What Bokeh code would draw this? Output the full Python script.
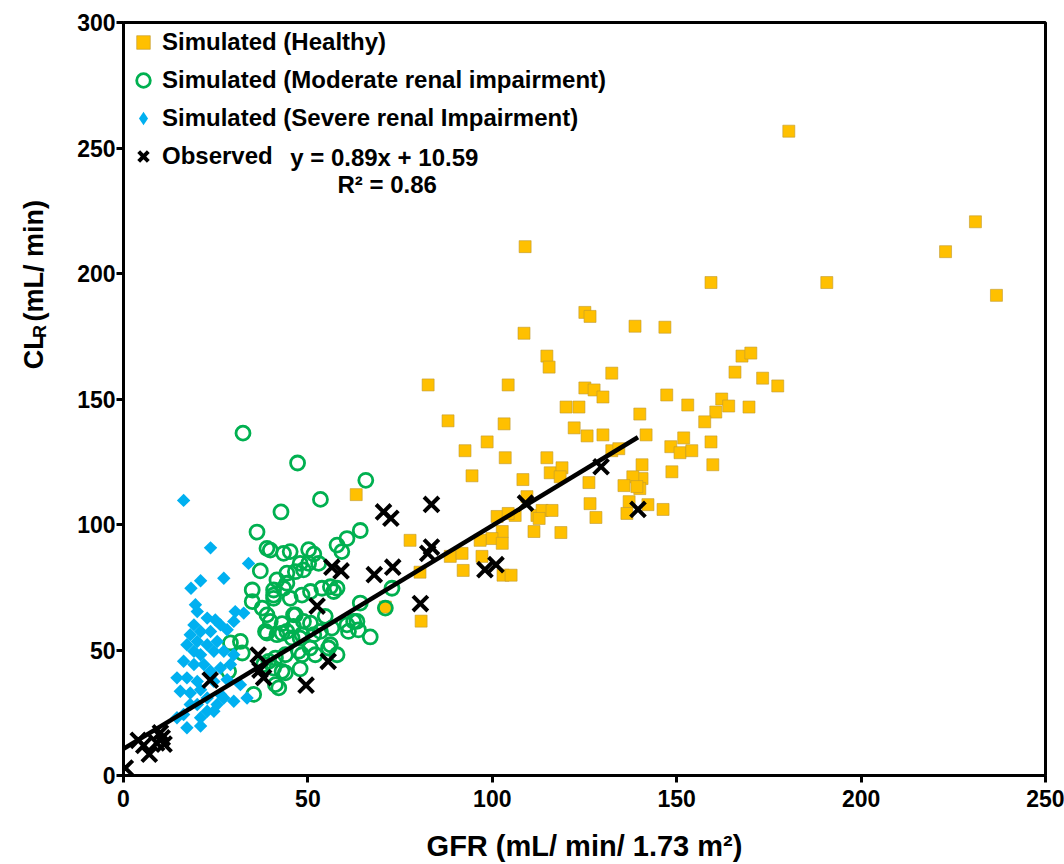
import math
from bokeh.plotting import figure
from bokeh.layouts import row
from bokeh.models import Range1d, Legend, LegendItem, Label, FixedTicker
from bokeh.embed import file_html
from bokeh.resources import INLINE

# ---------------- data ----------------
healthy_x = [180.4, 231.0, 222.9, 159.3, 190.7, 236.7, 108.9, 125.1, 126.5, 138.7, 146.8, 108.6,
             114.8, 115.4, 132.4, 165.8, 167.7, 170.1, 173.3, 177.4, 104.3, 82.6, 125.1, 127.6,
             130.0, 147.3, 162.2, 164.1, 169.6, 153.0, 120.0, 123.5, 160.6, 140.0, 157.6, 103.2,
             88.0, 122.2, 125.7, 130.0, 141.7, 98.6, 151.9, 159.3, 148.4, 150.9, 154.1, 159.8,
             148.7, 140.6, 140.6, 140.0, 92.6, 103.5, 114.8, 132.4, 134.3, 94.5, 108.3, 115.7,
             118.9, 118.4, 126.2, 138.1, 135.7, 139.2, 109.4, 126.5, 137.1, 142.2, 146.3, 136.5,
             128.1, 101.3, 106.2, 104.3, 112.1, 113.5, 116.2, 112.7, 111.3, 118.6, 102.7, 77.7,
             99.9, 96.7, 102.7, 88.6, 91.8, 97.2, 80.4, 92.1, 102.9, 105.1, 80.7, 71.0, 63.1]
healthy_y = [256.7, 220.6, 208.7, 196.4, 196.4, 191.3, 210.7, 184.5, 182.9, 179.0, 178.6, 176.2,
             167.1, 162.7, 160.3, 160.7, 167.1, 168.3, 158.3, 155.2, 155.6, 155.6, 154.4, 153.6,
             150.8, 151.6, 150.0, 147.2, 146.8, 147.6, 146.8, 146.8, 144.8, 144.0, 140.9, 140.1,
             141.3, 138.5, 135.3, 135.7, 135.7, 132.9, 134.5, 132.9, 131.0, 128.6, 129.4, 123.8,
             121.0, 123.8, 118.3, 114.3, 129.4, 126.6, 126.6, 129.4, 130.2, 119.4, 117.9, 120.6,
             122.6, 119.0, 116.7, 119.0, 115.5, 115.1, 111.1, 108.3, 109.1, 107.9, 106.0, 104.4,
             102.8, 103.2, 103.6, 104.4, 103.6, 105.6, 105.6, 102.4, 97.2, 96.8, 97.2, 93.7,
             94.4, 93.7, 92.5, 87.3, 88.5, 87.3, 81.0, 81.7, 79.8, 79.8, 61.5, 67.1, 111.9]

moderate_x = [32.4, 47.2, 53.4, 42.7, 36.2, 65.7, 64.2, 60.6, 57.9, 59.2,
              38.9, 39.8, 43.4, 45.2, 50.2, 51.6, 37.1, 41.6, 44.3, 47.9, 48.8, 50.2, 46.6, 44.3,
              52.9, 34.9, 40.7, 43.4, 34.9, 37.6, 40.7, 40.7, 45.2, 48.4, 50.7, 53.8, 57.0, 56.1,
              57.9, 64.2, 72.8, 71.0, 46.6, 38.9, 46.1, 39.8, 48.8, 43.0, 46.1, 50.7, 54.7, 56.5,
              62.4, 60.6, 63.3, 61.0, 63.7, 66.9, 38.9, 41.6, 44.3, 43.0, 47.9, 51.6, 53.4, 45.7,
              48.4, 56.1, 50.6, 47.5, 43.9, 41.2, 48.4, 52.0, 55.6, 57.9, 29.0, 31.7, 32.2, 28.5,
              43.0, 43.9, 41.2, 47.9, 40.7, 38.0, 39.4, 35.3, 42.1, 38.5]
moderate_y = [136.4, 124.5, 110.0, 105.0, 97.0, 117.6, 97.6, 94.4, 91.8, 89.2,
              90.5, 89.8, 88.5, 89.2, 90.0, 88.2, 81.5, 77.9, 80.6, 84.5, 81.9, 84.5, 81.2, 76.6,
              84.5, 73.9, 73.9, 74.6, 69.3, 66.7, 70.6, 71.9, 70.6, 71.9, 73.3, 74.6, 73.3, 75.2,
              74.6, 68.7, 74.6, 66.7, 64.0, 64.0, 64.0, 61.4, 61.4, 60.5, 59.4, 60.7, 63.4, 58.7,
              61.4, 60.0, 61.4, 57.4, 58.0, 55.2, 56.7, 56.1, 57.4, 56.7, 54.7, 56.1, 57.4, 54.8,
              56.1, 52.1, 50.8, 49.5, 48.1, 46.8, 48.1, 48.1, 50.8, 48.1, 52.8, 53.4, 48.8, 41.5,
              41.5, 40.9, 36.2, 42.5, 42.8, 44.2, 45.5, 32.3, 34.9, 57.4]

severe_x = [16.3, 23.6, 33.9, 27.2, 20.9, 18.3, 19.5, 20.0, 30.3, 32.6, 19.1, 22.7, 24.9, 26.3,
            20.9, 23.6, 18.1, 28.1, 29.9, 20.0, 22.7, 25.4, 17.2, 19.1, 20.9, 24.5, 27.2, 29.9,
            16.3, 19.1, 21.8, 23.6, 26.3, 29.0, 14.5, 17.2, 20.0, 24.5, 28.1, 31.7, 15.4, 18.1,
            20.9, 22.7, 26.3, 33.5, 29.9, 25.4, 20.0, 18.1, 22.7, 20.9, 16.3, 14.5, 24.5, 27.2,
            17.2, 20.9]
severe_y = [109.6, 90.7, 84.5, 78.6, 77.6, 74.6, 68.0, 65.3, 65.3, 64.7, 60.0, 62.7, 62.0, 60.0,
            57.4, 57.4, 56.1, 58.1, 61.4, 53.4, 52.1, 53.4, 52.1, 49.5, 48.1, 49.5, 49.5, 48.1,
            45.5, 44.2, 44.2, 41.5, 42.8, 44.2, 38.9, 38.9, 37.5, 37.5, 38.2, 36.2, 33.6, 32.9,
            34.2, 30.9, 32.3, 30.9, 29.6, 28.3, 28.3, 28.3, 25.6, 23.0, 24.3, 23.0, 25.6, 30.9,
            19.0, 19.7]

observed_x = [0.5, 4.0, 5.5, 7.0, 9.0, 10.5, 11.0, 10.0, 23.5, 36.5, 37.0, 38.0, 49.5, 55.5,
              52.5, 56.5, 59.0, 68.0, 73.0, 70.5, 72.5, 83.5, 83.5, 82.5, 80.5, 98.0, 101.0,
              109.0, 129.5, 139.5]
observed_y = [3.0, 14.0, 12.0, 8.5, 13.0, 15.0, 12.5, 17.0, 38.0, 48.0, 42.0, 39.0, 36.0, 45.5,
              67.5, 83.0, 81.5, 80.0, 83.0, 105.0, 102.5, 108.0, 91.0, 88.5, 68.5, 82.0, 84.0,
              108.5, 123.0, 106.0]

fit_slope = 0.89
fit_intercept = 10.59
fit_r2 = 0.86

x_ticks = [0, 50, 100, 150, 200, 250]
y_ticks = [0, 50, 100, 150, 200, 250, 300]

FONT = "Liberation Sans"
LEFT_W = 60

p = figure(width=1064 - LEFT_W, height=864, output_backend="svg", toolbar_location=None,
           x_range=Range1d(0, 250), y_range=Range1d(0, 300),
           min_border_left=123 - LEFT_W, min_border_right=19, min_border_top=22, min_border_bottom=86)
p.grid.visible = False
p.outline_line_color = "black"
p.outline_line_width = 3
p.background_fill_color = "white"
p.border_fill_color = "white"

for ax in (p.xaxis[0], p.yaxis[0]):
    ax.axis_line_width = 3
    ax.axis_line_color = "black"
    ax.major_tick_line_width = 3
    ax.major_tick_out = 7
    ax.major_tick_in = 0
    ax.minor_tick_line_color = None
    ax.major_label_text_font = FONT
    ax.major_label_text_font_style = "bold"
    ax.major_label_text_font_size = "23px"
    ax.major_label_text_color = "black"

p.xaxis.ticker = FixedTicker(ticks=x_ticks)
p.yaxis.ticker = FixedTicker(ticks=y_ticks)
p.xaxis.major_label_standoff = 7
p.yaxis.major_label_standoff = 1
p.xaxis.axis_label = "GFR (mL/ min/ 1.73 m\u00b2)"
p.xaxis.axis_label_text_font = FONT
p.xaxis.axis_label_text_font_style = "bold"
p.xaxis.axis_label_text_font_size = "29px"
p.xaxis.axis_label_text_color = "black"
p.xaxis.axis_label_standoff = 20

SEVERE_COLOR = "#00B0F0"
NAN = float("nan")

r_h = p.scatter(healthy_x, healthy_y, marker="square", size=12, fill_color="#FFC000",
                line_color="#BF9A30", line_width=1, line_alpha=0.6)
r_m = p.scatter(moderate_x, moderate_y, marker="circle", size=14, fill_alpha=0,
                line_color="#00B050", line_width=2.8)
r_s = p.scatter(severe_x, severe_y, marker="square", size=9.5, angle=math.pi / 4,
                fill_color=SEVERE_COLOR, line_color=None)
# legend proxy (diamond shape) for the severe group; a NaN point is never drawn in the plot
r_s_leg = p.scatter(x=[NAN], y=[NAN], marker="diamond", size=14, fill_color=SEVERE_COLOR,
                    line_color=None)
fx = [0, max(observed_x)]
fy = [fit_slope * v + fit_intercept for v in fx]
p.line(fx, fy, line_color="black", line_width=4.5)
r_o = p.scatter(observed_x, observed_y, marker="x", size=21, line_color="black", line_width=4)

legend = Legend(items=[
    LegendItem(label="Simulated (Healthy)", renderers=[r_h]),
    LegendItem(label="Simulated (Moderate renal impairment)", renderers=[r_m]),
    LegendItem(label="Simulated (Severe renal Impairment)", renderers=[r_s_leg]),
    LegendItem(label="Observed", renderers=[r_o]),
], location="top_left")
legend.margin = 0
legend.padding = 3
legend.spacing = 4
legend.glyph_width = 34
legend.glyph_height = 34
legend.label_height = 34
legend.label_standoff = 2
legend.label_text_font = FONT
legend.label_text_font_style = "bold"
legend.label_text_font_size = "24px"
legend.label_text_color = "black"
legend.border_line_alpha = 0
legend.background_fill_alpha = 0
p.add_layout(legend)

eq = Label(x=45.2, y=246.4, text=f"y = {fit_slope}x + {fit_intercept}", text_font=FONT,
           text_font_style="bold", text_font_size="24px", text_baseline="middle",
           text_align="left", text_color="black")
r2 = Label(x=71.5, y=235.3, text=f"R\u00b2 = {fit_r2}", text_font=FONT,
           text_font_style="bold", text_font_size="24px", text_baseline="middle",
           text_align="center", text_color="black")
p.add_layout(eq)
p.add_layout(r2)

# left strip holding the y-axis title (CL with subscript R)
q = figure(width=LEFT_W, height=864, output_backend="svg", toolbar_location=None,
           x_range=Range1d(0, LEFT_W), y_range=Range1d(0, 864),
           x_axis_location=None, y_axis_location=None,
           min_border_left=0, min_border_right=0, min_border_top=0, min_border_bottom=0)
q.grid.visible = False
q.outline_line_color = None
q.background_fill_color = "white"
q.border_fill_color = "white"
q.add_layout(Label(x=33, y=466, text="CL", angle=math.pi / 2, text_font=FONT,
                   text_font_style="bold", text_font_size="27px", text_baseline="middle",
                   text_align="left", text_color="black"))
q.add_layout(Label(x=39, y=502, text="R", angle=math.pi / 2, text_font=FONT,
                   text_font_style="bold", text_font_size="18px", text_baseline="middle",
                   text_align="left", text_color="black"))
q.add_layout(Label(x=33, y=521, text="(mL/ min)", angle=math.pi / 2, text_font=FONT,
                   text_font_style="bold", text_font_size="27px", text_baseline="middle",
                   text_align="left", text_color="black"))

open("out.html", "w").write(file_html(row(q, p), INLINE))
